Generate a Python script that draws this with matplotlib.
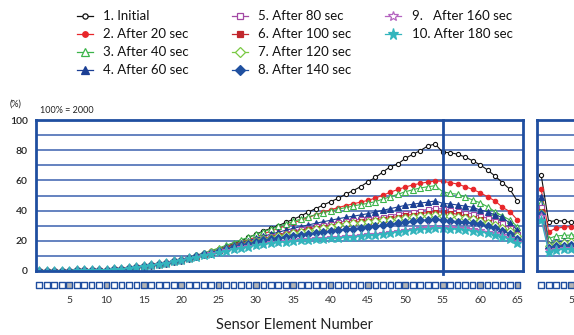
import matplotlib.pyplot as plt
import matplotlib.transforms as mtransforms
from matplotlib.lines import Line2D

plt.rcParams['font.family'] = ['Lato', 'DejaVu Sans']

# Sensor element numbers
elements = list(range(1, 66))
elements_right = list(range(1, 9))

labels = ['1. Initial', '2. After 20 sec', '3. After 40 sec', '4. After 60 sec',
          '5. After 80 sec', '6. After 100 sec', '7. After 120 sec', '8. After 140 sec',
          '9.   After 160 sec', '10. After 180 sec']

# values in % (100% = 2000)
s_initial = [0.3, 0.3, 0.3, 0.3, 0.3, 0.4, 0.4, 0.5, 0.6, 0.8,
             1.0, 1.3, 1.8, 2.4, 3.0, 3.7, 4.5, 5.4, 6.4, 7.5,
             8.7, 10.0, 11.4, 12.9, 14.5, 16.2, 18.0, 20.0, 22.2, 24.4,
             26.5, 28.2, 30.0, 32.2, 34.3, 36.4, 39.0, 41.3, 43.7, 45.9,
             48.1, 50.8, 53.2, 55.8, 59.1, 62.0, 65.6, 69.1, 70.9, 74.6,
             77.3, 79.7, 82.8, 84.1, 78.6, 78.4, 77.3, 75.5, 73.0, 70.4,
             66.9, 62.9, 58.5, 54.1, 46.2]
s_20 = [0.3, 0.3, 0.3, 0.3, 0.3, 0.4, 0.4, 0.5, 0.6, 0.8,
        1.1, 1.4, 1.9, 2.5, 3.1, 3.8, 4.6, 5.5, 6.5, 7.6,
        8.8, 10.1, 11.5, 13.0, 14.5, 16.0, 17.6, 19.2, 20.8, 22.4,
        24.6, 26.4, 28.2, 30.0, 31.8, 33.6, 35.4, 37.2, 39.0, 40.5,
        42.0, 43.3, 44.5, 45.6, 46.8, 48.3, 50.2, 52.2, 54.0, 55.6,
        57.0, 58.0, 58.9, 59.6, 59.4, 58.5, 57.6, 55.8, 54.1, 51.9,
        49.2, 46.4, 42.2, 39.3, 33.8]
s_40 = [0.3, 0.3, 0.3, 0.3, 0.3, 0.4, 0.4, 0.5, 0.6, 0.8,
        1.1, 1.4, 1.9, 2.5, 3.1, 3.8, 4.7, 5.6, 6.6, 7.8,
        9.0, 10.4, 11.9, 13.5, 15.2, 17.0, 18.8, 20.6, 22.4, 24.2,
        26.0, 27.8, 29.5, 31.2, 32.8, 34.4, 35.9, 37.3, 38.6, 39.8,
        40.9, 42.0, 43.0, 44.0, 44.8, 46.0, 47.6, 49.2, 50.8, 52.5,
        53.8, 55.0, 55.8, 56.5, 52.5, 51.4, 50.8, 49.2, 47.0, 45.2,
        42.6, 39.3, 36.4, 33.8, 29.4]
s_60 = [0.3, 0.3, 0.3, 0.3, 0.3, 0.4, 0.4, 0.5, 0.6, 0.8,
        1.1, 1.4, 1.9, 2.5, 3.1, 3.8, 4.6, 5.5, 6.5, 7.6,
        8.8, 10.0, 11.3, 12.7, 14.1, 15.6, 17.1, 18.6, 20.1, 21.6,
        23.0, 24.4, 25.7, 27.0, 28.2, 29.4, 30.5, 31.6, 32.6, 33.6,
        34.6, 35.5, 36.3, 37.1, 38.0, 39.0, 40.2, 41.3, 42.4, 43.5,
        44.2, 45.0, 45.6, 46.4, 44.8, 44.4, 43.7, 43.0, 42.2, 40.4,
        39.3, 37.1, 35.5, 31.6, 27.2]
s_80 = [0.3, 0.3, 0.3, 0.3, 0.3, 0.4, 0.4, 0.5, 0.6, 0.8,
        1.1, 1.4, 1.9, 2.5, 3.1, 3.8, 4.6, 5.5, 6.5, 7.6,
        8.7, 9.9, 11.2, 12.5, 13.8, 15.1, 16.4, 17.7, 19.0, 20.3,
        21.6, 22.9, 24.1, 25.3, 26.4, 27.5, 28.5, 29.5, 30.5, 31.4,
        32.2, 33.0, 33.7, 34.2, 34.6, 35.2, 35.9, 36.6, 37.6, 38.6,
        39.3, 40.0, 40.8, 41.5, 41.0, 40.2, 39.8, 38.6, 38.0, 36.4,
        35.0, 33.3, 31.5, 28.3, 24.5]
s_100 = [0.3, 0.3, 0.3, 0.3, 0.3, 0.4, 0.4, 0.5, 0.6, 0.8,
         1.1, 1.4, 1.9, 2.5, 3.1, 3.8, 4.6, 5.5, 6.5, 7.6,
         8.7, 9.9, 11.1, 12.4, 13.7, 15.0, 16.3, 17.6, 18.9, 20.1,
         21.3, 22.5, 23.6, 24.7, 25.7, 26.7, 27.6, 28.5, 29.3, 30.1,
         30.8, 31.5, 32.2, 32.8, 33.4, 34.0, 34.6, 35.3, 36.0, 36.8,
         37.4, 38.0, 38.7, 39.3, 38.9, 38.5, 37.5, 36.4, 35.3, 34.2,
         32.5, 30.5, 28.3, 26.0, 22.0]
s_120 = [0.3, 0.3, 0.3, 0.3, 0.3, 0.4, 0.4, 0.5, 0.6, 0.8,
         1.1, 1.4, 1.9, 2.5, 3.1, 3.8, 4.6, 5.5, 6.5, 7.6,
         8.7, 9.9, 11.1, 12.3, 13.6, 14.9, 16.2, 17.4, 18.6, 19.8,
         21.0, 22.1, 23.1, 24.1, 25.0, 25.9, 26.8, 27.6, 28.4, 29.3,
         30.2, 30.9, 31.5, 32.0, 32.5, 33.0, 33.5, 34.0, 34.5, 35.0,
         35.6, 36.2, 36.7, 37.1, 36.7, 36.4, 35.7, 35.0, 34.2, 33.3,
         32.0, 30.5, 28.6, 26.5, 23.0]
s_140 = [0.3, 0.3, 0.3, 0.3, 0.3, 0.4, 0.4, 0.5, 0.6, 0.8,
         1.1, 1.4, 1.9, 2.5, 3.1, 3.8, 4.6, 5.5, 6.5, 7.5,
         8.6, 9.8, 11.0, 12.2, 13.4, 14.6, 15.8, 17.0, 18.1, 19.2,
         20.2, 21.1, 21.9, 22.7, 23.4, 24.1, 24.7, 25.3, 25.9, 26.5,
         27.0, 27.6, 28.1, 28.6, 29.2, 29.8, 30.5, 31.0, 31.8, 32.5,
         33.0, 33.5, 33.9, 34.2, 33.6, 33.3, 32.7, 32.2, 31.5, 30.8,
         29.6, 28.3, 26.6, 24.5, 21.5]
s_160 = [0.3, 0.3, 0.3, 0.3, 0.3, 0.4, 0.4, 0.5, 0.6, 0.8,
         1.1, 1.4, 1.9, 2.5, 3.1, 3.8, 4.6, 5.4, 6.4, 7.4,
         8.4, 9.5, 10.6, 11.7, 12.7, 13.7, 14.7, 15.7, 16.6, 17.4,
         18.2, 18.9, 19.5, 20.0, 20.5, 21.0, 21.4, 21.8, 22.1, 22.4,
         22.7, 23.0, 23.4, 23.8, 24.2, 24.7, 25.2, 25.8, 26.5, 27.2,
         27.8, 28.4, 28.9, 29.4, 29.2, 29.0, 28.7, 28.3, 27.7, 27.0,
         26.1, 25.0, 23.6, 22.0, 19.5]
s_180 = [0.3, 0.3, 0.3, 0.3, 0.3, 0.4, 0.4, 0.5, 0.6, 0.8,
         1.1, 1.4, 1.9, 2.5, 3.1, 3.8, 4.6, 5.4, 6.3, 7.3,
         8.3, 9.3, 10.3, 11.3, 12.3, 13.3, 14.3, 15.2, 16.1, 16.9,
         17.6, 18.3, 18.9, 19.5, 20.0, 20.4, 20.8, 21.1, 21.4, 21.7,
         22.0, 22.3, 22.7, 23.1, 23.6, 24.1, 24.7, 25.3, 26.0, 26.7,
         27.2, 27.7, 28.0, 28.3, 28.2, 28.0, 27.6, 27.3, 26.7, 26.0,
         25.1, 24.0, 22.6, 21.0, 18.5]

# second sensor block (only the first elements are visible)
r_initial = [63.5, 32.7, 33.3, 33.1, 32.2, 32.0, 31.8, 31.5]
r_20 = [54.3, 26.0, 28.3, 29.0, 29.4, 29.5, 29.6, 29.6]
r_40 = [46.0, 21.5, 23.2, 23.6, 23.8, 24.0, 24.1, 24.2]
r_60 = [49.0, 17.9, 19.2, 19.6, 20.0, 20.2, 20.3, 20.4]
r_80 = [42.6, 16.5, 17.8, 18.3, 18.6, 18.8, 18.9, 19.0]
r_100 = [39.5, 15.8, 17.0, 17.4, 17.7, 17.9, 18.0, 18.1]
r_120 = [38.5, 16.8, 18.2, 18.6, 18.9, 19.1, 19.2, 19.3]
r_140 = [37.5, 15.2, 16.3, 16.7, 17.0, 17.2, 17.3, 17.4]
r_160 = [36.4, 13.6, 14.6, 15.0, 15.3, 15.5, 15.6, 15.7]
r_180 = [33.8, 12.9, 14.0, 14.4, 14.7, 14.9, 15.0, 15.1]

main_series = [s_initial, s_20, s_40, s_60, s_80, s_100, s_120, s_140, s_160, s_180]
right_series = [r_initial, r_20, r_40, r_60, r_80, r_100, r_120, r_140, r_160, r_180]

# (colour, marker, filled, markersize)
styles = [('#111111', 'o', False, 3.0),
          ('#e8262a', 'o', True, 3.2),
          ('#3cb44a', '^', False, 4.5),
          ('#1b3f94', '^', True, 4.8),
          ('#a349a4', 's', False, 3.6),
          ('#c1272d', 's', True, 3.6),
          ('#7ac943', 'D', False, 3.8),
          ('#2050a0', 'D', True, 4.0),
          ('#b565c0', '*', False, 6.0),
          ('#33b5bd', '*', True, 6.5)]

frame_col = '#1f4ea0'
grid_col = '#4a6db5'

fig = plt.figure(figsize=(5.74, 3.35), dpi=100)
W, H = 574.0, 335.0
ax = fig.add_axes([36 / W, 1 - 271 / H, (523 - 36) / W, (271 - 120) / H])
ax2 = fig.add_axes([537 / W, 1 - 271 / H, 90 / W, (271 - 120) / H])


def draw_panel(a, xs, series, xlim, ticks):
    for vals, (c, m, filled, ms) in zip(series, styles):
        a.plot(xs, vals, color=c, lw=0.8, marker=m, ms=ms,
               mfc=c if filled else 'white', mec=c, mew=0.8)
    a.set_xlim(*xlim)
    a.set_ylim(0, 100)
    for g in range(10, 100, 10):
        a.axhline(g, color=grid_col, lw=1.2, zorder=0)
    for sp in a.spines.values():
        sp.set_color(frame_col)
        sp.set_linewidth(2)
    a.tick_params(axis='x', length=0, pad=18, labelsize=7.5, labelcolor='#333333')
    a.set_xticks(ticks)
    a.set_xticklabels([str(t) for t in ticks])
    # row of element boxes under the plot
    trans = mtransforms.blended_transform_factory(a.transData, a.transAxes)
    face = ['#b4b4b4' if x % 5 == 0 else 'white' for x in xs]
    a.scatter(xs, [-0.093] * len(xs), s=17, marker='s', c=face,
              edgecolors=frame_col, linewidths=1.0, transform=trans, clip_on=False)


draw_panel(ax, elements, main_series, (0.56, 65.75), list(range(5, 66, 5)))
ax.axvline(55, ymin=-0.02, ymax=1, color=frame_col, lw=2, clip_on=False)
ax.set_yticks(range(0, 101, 20))
ax.tick_params(axis='y', length=0, pad=6, labelsize=7.5, labelcolor='#222222')
for t in ax.get_yticklabels():
    t.set_fontweight('semibold')

draw_panel(ax2, elements_right, right_series, (0.44, 12.5), [5])
ax2.set_yticks([])

fig.text(10 / W, 1 - 104 / H, '(%)', fontsize=6.5, va='center', color='#222222')
fig.text(40 / W, 1 - 110 / H, '100% = 2000', fontsize=6.5, va='center', color='#222222')
fig.text(294 / W, 1 - 325 / H, 'Sensor Element Number', fontsize=10.5, ha='center',
         va='center', color='#222222')

# legend: 3 columns (4, 4, 2 entries)
col_x = [85, 240, 393]
text_x = [103, 258, 412]
row_y = [16, 34, 52, 70]
for i, (lab, (c, m, filled, ms)) in enumerate(zip(labels, styles)):
    col, row = divmod(i, 4)
    y = 1 - row_y[row] / H
    x = col_x[col]
    fig.add_artist(Line2D([(x - 8) / W, (x + 8) / W], [y, y], color=c, lw=0.9,
                          transform=fig.transFigure))
    fig.add_artist(Line2D([x / W], [y], marker=m, ms=ms * 1.25, color=c,
                          mfc=c if filled else 'white', mec=c, mew=0.9,
                          transform=fig.transFigure))
    fig.text(text_x[col] / W, y, lab, fontsize=9.5, va='center', color='#111111')

fig.savefig('out.png', dpi=100)
